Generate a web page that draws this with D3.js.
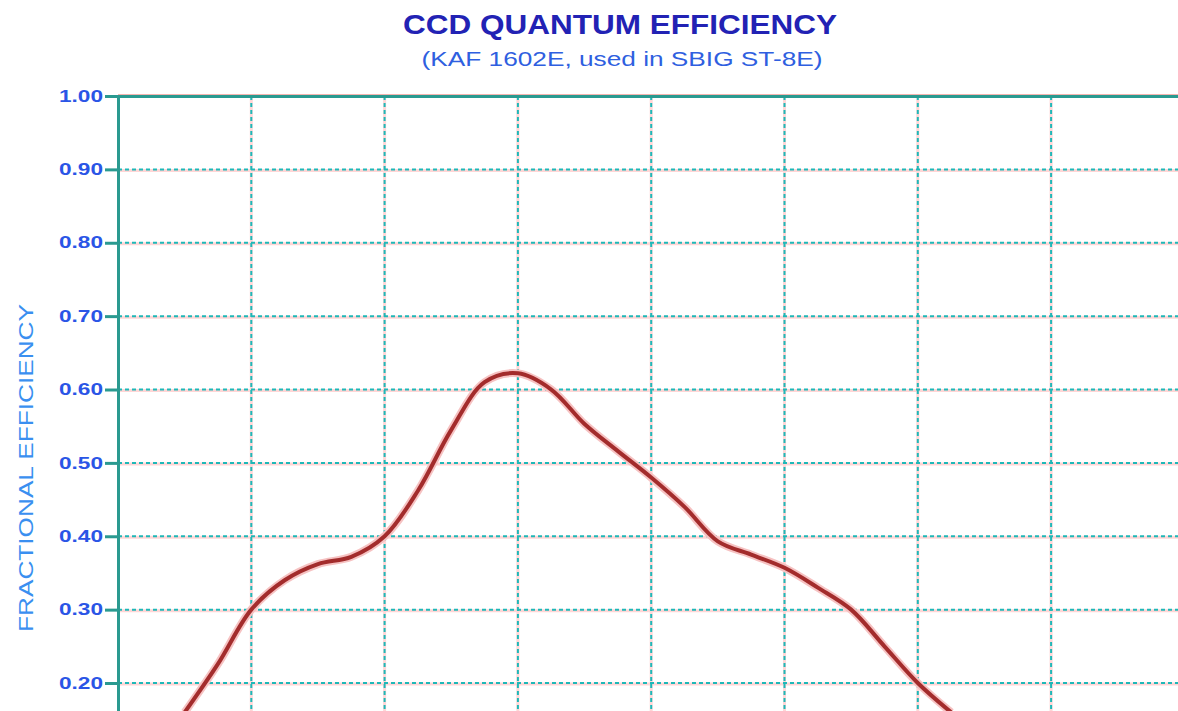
<!DOCTYPE html>
<html>
<head>
<meta charset="utf-8">
<script src="https://cdn.jsdelivr.net/npm/d3@7"></script>
<style>
  body { margin: 0; background: #fff; }
  svg { display: block; font-family: "Liberation Sans", Arial, sans-serif; }
</style>
</head>
<body>
<svg id="qe" width="1178" height="711"></svg>
<script>
// wavelength (nm) and fractional quantum efficiency
const wavelength = [350, 375, 400, 425, 450, 475, 500, 525, 550, 575, 600, 625, 650, 675, 700, 725, 750, 775, 800, 825, 850, 875, 900, 925]
const efficiency = [0.16, 0.226, 0.30, 0.34, 0.362, 0.372, 0.40, 0.462, 0.545, 0.61, 0.622, 0.60, 0.553, 0.516, 0.48, 0.44, 0.393, 0.375, 0.357, 0.33, 0.30, 0.25, 0.20, 0.16]
const yTicks = [0.2, 0.3, 0.4, 0.5, 0.6, 0.7, 0.8, 0.9, 1.0]
const xGrid = [400, 500, 600, 700, 800, 900, 1000]

let svg = d3.select("#qe")

let x = d3.scaleLinear().domain([300, 1100]).range([118, 1184.4])
let y = d3.scaleLinear().domain([0.15, 1.0]).range([719.7, 96])

const teal = "#2a9a90"
const cyan = "#1fb8b8"
const pink = "#ffd6d6"

// title
svg.append("text")
  .attr("x", 620)
  .attr("y", 34)
  .attr("text-anchor", "middle")
  .attr("font-size", "27px")
  .attr("font-weight", "bold")
  .attr("fill", "#2222b4")
  .attr("textLength", 434)
  .attr("lengthAdjust", "spacingAndGlyphs")
  .text("CCD QUANTUM EFFICIENCY")

svg.append("text")
  .attr("x", 622)
  .attr("y", 66)
  .attr("text-anchor", "middle")
  .attr("font-size", "20px")
  .attr("fill", "#2f5fe0")
  .attr("textLength", 401)
  .attr("lengthAdjust", "spacingAndGlyphs")
  .text("(KAF 1602E, used in SBIG ST-8E)")

// y axis label
svg.append("text")
  .attr("transform", "translate(33," + 468 + ") rotate(-90)")
  .attr("text-anchor", "middle")
  .attr("font-size", "21px")
  .attr("fill", "#3a8ff0")
  .attr("textLength", 328)
  .attr("lengthAdjust", "spacingAndGlyphs")
  .text("FRACTIONAL EFFICIENCY")

let grid = svg.append("g")

// faint pink ghost lines under the dotted grid
grid.selectAll(".hghost")
  .data(yTicks.slice(0, -1))
  .enter()
  .append("line")
    .attr("x1", x(300)).attr("x2", 1178)
    .attr("y1", (d) => y(d) + 1).attr("y2", (d) => y(d) + 1)
    .attr("stroke", pink)
    .attr("stroke-width", 3)

grid.selectAll(".vghost")
  .data(xGrid)
  .enter()
  .append("line")
    .attr("x1", (d) => x(d)).attr("x2", (d) => x(d))
    .attr("y1", y(1.0)).attr("y2", 711)
    .attr("stroke", pink)
    .attr("stroke-width", 3)

grid.selectAll(".hgrid")
  .data(yTicks.slice(0, -1))
  .enter()
  .append("line")
    .attr("x1", x(300)).attr("x2", 1178)
    .attr("y1", (d) => y(d)).attr("y2", (d) => y(d))
    .attr("stroke", cyan)
    .attr("stroke-width", 2)
    .attr("stroke-dasharray", "4,3")

grid.selectAll(".vgrid")
  .data(xGrid)
  .enter()
  .append("line")
    .attr("x1", (d) => x(d)).attr("x2", (d) => x(d))
    .attr("y1", y(1.0)).attr("y2", 711)
    .attr("stroke", cyan)
    .attr("stroke-width", 2)
    .attr("stroke-dasharray", "4,3")

// top border at 1.00
svg.append("line")
  .attr("x1", x(300)).attr("x2", 1178)
  .attr("y1", y(1.0) - 1).attr("y2", y(1.0) - 1)
  .attr("stroke", "#f4b4b0")
  .attr("stroke-width", 2)
svg.append("line")
  .attr("x1", x(300)).attr("x2", 1178)
  .attr("y1", y(1.0) + 0.5).attr("y2", y(1.0) + 0.5)
  .attr("stroke", teal)
  .attr("stroke-width", 3)

// y axis
let yAxis = svg.append("g")
  .attr("transform", "translate(" + x(300) + ",0)")
  .call(d3.axisLeft(y)
    .tickValues(yTicks)
    .tickFormat(d3.format(".2f"))
    .tickSize(13)
    .tickSizeOuter(0)
    .tickPadding(2))

yAxis.select(".domain")
  .attr("stroke", teal)
  .attr("stroke-width", 3)
yAxis.selectAll(".tick line")
  .attr("stroke", teal)
  .attr("stroke-width", 3)
yAxis.selectAll(".tick text")
  .attr("font-size", "16px")
  .attr("font-weight", "bold")
  .attr("fill", "#2a55e6")
  .attr("font-family", "Liberation Sans, Arial, sans-serif")
  .attr("textLength", 44)
  .attr("lengthAdjust", "spacingAndGlyphs")

// efficiency curve
let d = wavelength.map((w, i) => ({ w: w, e: efficiency[i] }))

let line = d3.line()
  .x((d) => x(d.w))
  .y((d) => y(d.e))
  .curve(d3.curveCatmullRom.alpha(0.5))

svg.append("path")
  .datum(d)
  .attr("fill", "none")
  .attr("stroke", "#f6c2c2")
  .attr("stroke-width", 8)
  .attr("stroke-linejoin", "round")
  .attr("d", line)

svg.append("path")
  .datum(d)
  .attr("fill", "none")
  .attr("stroke", "#a32c2c")
  .attr("stroke-width", 4)
  .attr("stroke-linejoin", "round")
  .attr("d", line)
</script>
</body>
</html>
